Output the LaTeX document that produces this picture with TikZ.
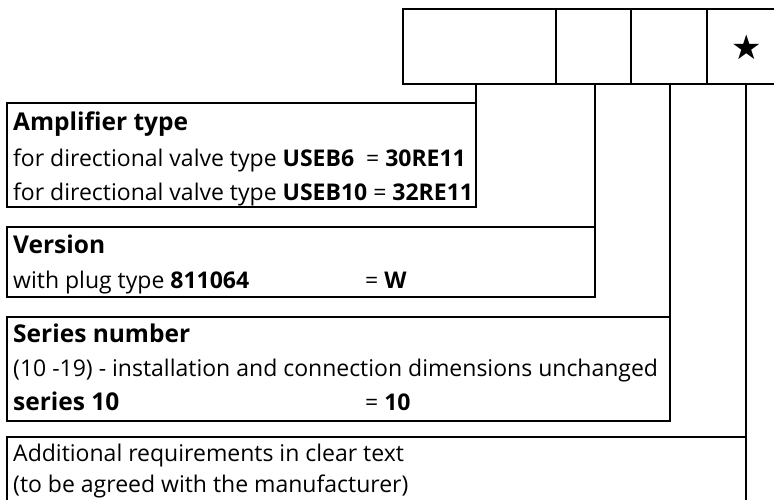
\documentclass[tikz,border=0pt]{standalone}
\usepackage{fontspec}
\setmainfont{Open Sans}
\newfontfamily\symfont{DejaVu Sans}
\begin{document}
\begin{tikzpicture}[x=1pt,y=-1pt,
  cellbox/.style={draw,line width=2.6pt,rectangle,minimum height=75pt,inner sep=0pt,outer sep=0pt,anchor=north west},
  infobox/.style={draw,line width=1.8pt,rectangle,inner sep=0pt,outer sep=0pt,anchor=north west},
  conn/.style={line width=1.8pt},
  txt/.style={anchor=base west,inner sep=0pt,font=\fontsize{23}{26}\selectfont},
  ttl/.style={anchor=base west,inner sep=0pt,font=\fontsize{24.5}{28}\selectfont\bfseries}]
\useasboundingbox (0,0) rectangle (774,499);
\clip (0,0) rectangle (774,499);
% top code boxes
\node[cellbox,minimum width=153pt] (c1) at (403,9) {};
\node[cellbox,minimum width=75pt] (c2) at (556,9) {};
\node[cellbox,minimum width=76pt] (c3) at (631,9) {};
\node[cellbox,minimum width=80pt] (c4) at (707,9) {};
\node[inner sep=0pt,font=\symfont\fontsize{34}{34}\selectfont] (star) at (747,47) {★};
% info boxes
\node[infobox,minimum width=469pt,minimum height=104pt] (amp) at (7,103) {};
\node[infobox,minimum width=588pt,minimum height=70pt] (ver) at (7,227) {};
\node[infobox,minimum width=663pt,minimum height=104pt] (ser) at (7,317) {};
\node[infobox,minimum width=739pt,minimum height=80pt] (add) at (7,437) {};
% connectors
\coordinate (k1) at (476,84);
\coordinate (k2) at (595,84);
\coordinate (k3) at (670,84);
\coordinate (k4) at (746,84);
\draw[conn] (k1) -- (amp.north east);
\draw[conn] (k2) -- (ver.north east);
\draw[conn] (k3) -- (ser.north east);
\draw[conn] (k4) -- (add.north east) -- (add.south east);
% texts
\node[ttl] (t1) at (13,130) {Amplifier type};
\node[txt] (t2) at (13,166) {for directional valve type \textbf{USEB6}\ \ = \textbf{30RE11}};
\node[txt] (t3) at (13,200) {for directional valve type \textbf{USEB10} = \textbf{32RE11}};
\node[ttl] (t4) at (13,253) {Version};
\node[txt] (t5) at (13,288) {with plug type \textbf{811064}};
\node[txt] (t6) at (365,288) {= \textbf{W}};
\node[ttl] (t7) at (13,342) {Series number};
\node[txt] (t8) at (13,376) {(10 -19) - installation and connection dimensions unchanged};
\node[ttl] (t9) at (13,410) {series 10};
\node[txt] (t10) at (365,410) {= \textbf{10}};
\node[txt] (t11) at (13,461) {Additional requirements in clear text};
\node[txt] (t12) at (13,492) {(to be agreed with the manufacturer)};
\end{tikzpicture}
\end{document}
